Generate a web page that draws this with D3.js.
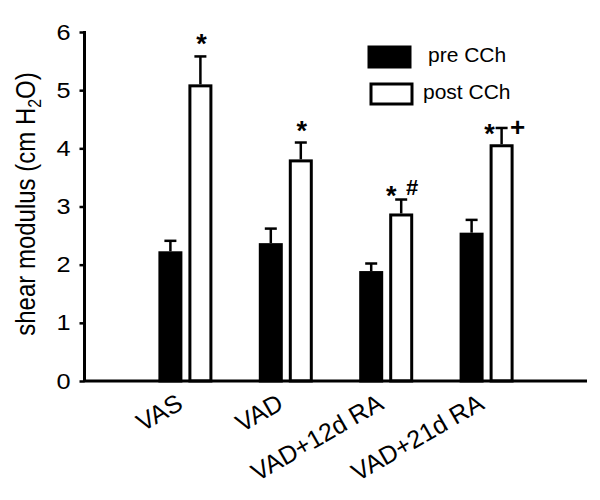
<!DOCTYPE html>
<html>
<head>
<meta charset="utf-8">
<script src="https://cdn.jsdelivr.net/npm/d3@7"></script>
<style>
  html, body { margin: 0; padding: 0; background: #fff; }
  svg { display: block; }
  text { font-family: "Liberation Sans", Arial, sans-serif; fill: #000; }
</style>
</head>
<body>
<div id="chart"></div>
<script>
// ---- data ----
const groups = ["VAS", "VAD", "VAD+12d RA", "VAD+21d RA"];
const seriesNames = ["pre CCh", "post CCh"];
const preValues  = [2.23, 2.37, 1.89, 2.55];
const preErrors  = [0.18, 0.25, 0.13, 0.22];
const postValues = [5.10, 3.81, 2.88, 4.07];
const postErrors = [0.48, 0.29, 0.24, 0.28];
const yTicks = [0, 1, 2, 3, 4, 5, 6];
const annotations = [["*"], ["*"], ["*", "#"], ["*", "+"]];

// ---- layout ----
const W = 600, H = 500;
const svg = d3.select("#chart").append("svg").attr("width", W).attr("height", H);

const x0 = d3.scaleBand().domain(groups).range([85, 587]).paddingOuter(0.5).paddingInner(0);
const y = d3.scaleLinear().domain([0, 6]).range([381, 32]);

const rows = groups.map((g, i) => ({
  group: g,
  bars: [
    { s: seriesNames[0], v: preValues[i], e: preErrors[i] },
    { s: seriesNames[1], v: postValues[i], e: postErrors[i] }
  ],
  ann: annotations[i]
}));

const fillOf = s => s === seriesNames[0] ? "#000" : "#fff";

const g = svg.selectAll("g.grp").data(rows).join("g").attr("class", "grp");

g.each(function(d) {
  const cx = x0(d.group) + x0.bandwidth() / 2;
  const x1 = d3.scaleBand().domain(seriesNames).range([cx - 27, cx + 27]).paddingInner(0.2);
  const sel = d3.select(this);
  // error bars (upwards only)
  sel.selectAll("line.err").data(d.bars).join("line")
    .attr("class", "err")
    .attr("x1", b => x1(b.s) + x1.bandwidth() / 2)
    .attr("x2", b => x1(b.s) + x1.bandwidth() / 2)
    .attr("y1", b => y(b.v))
    .attr("y2", b => y(b.v + b.e))
    .attr("stroke", "#000").attr("stroke-width", 2.5);
  sel.selectAll("line.cap").data(d.bars).join("line")
    .attr("class", "cap")
    .attr("x1", b => x1(b.s) + x1.bandwidth() / 2 - 6)
    .attr("x2", b => x1(b.s) + x1.bandwidth() / 2 + 6)
    .attr("y1", b => y(b.v + b.e))
    .attr("y2", b => y(b.v + b.e))
    .attr("stroke", "#000").attr("stroke-width", 2.5);
  // bars
  sel.selectAll("rect").data(d.bars).join("rect")
    .attr("x", b => x1(b.s) + 1.5)
    .attr("width", x1.bandwidth() - 3)
    .attr("y", b => y(b.v) + 1.5)
    .attr("height", b => y(0) - y(b.v) - 1.5)
    .attr("fill", b => fillOf(b.s))
    .attr("stroke", "#000").attr("stroke-width", 3);

  // annotations
  const post = d.bars[1];
  const px = x1(post.s) + x1.bandwidth() / 2;
  const top = y(post.v + post.e);
  if (d.ann.length === 1) {
    sel.append("text").text(d.ann[0])
      .attr("x", px + 1).attr("y", top - 3)
      .attr("text-anchor", "middle")
      .attr("font-size", 27).attr("font-weight", "bold");
  } else if (d.ann[1] === "#") {
    sel.append("text").text(d.ann[0])
      .attr("x", px - 10).attr("y", top + 5)
      .attr("text-anchor", "middle")
      .attr("font-size", 27).attr("font-weight", "bold");
    sel.append("text").text(d.ann[1])
      .attr("x", px + 11).attr("y", top - 5)
      .attr("text-anchor", "middle")
      .attr("font-size", 22).attr("font-weight", "bold");
  } else {
    sel.append("text").text(d.ann[0])
      .attr("x", px - 12).attr("y", top + 15)
      .attr("text-anchor", "middle")
      .attr("font-size", 27).attr("font-weight", "bold");
    sel.append("text").text(d.ann[1])
      .attr("x", px + 16).attr("y", top + 8)
      .attr("text-anchor", "middle")
      .attr("font-size", 26).attr("font-weight", "bold");
  }
});

// y axis
const yAxis = d3.axisLeft(y).tickValues(yTicks).tickSize(5).tickPadding(9).tickFormat(d3.format("d"));
const ya = svg.append("g").attr("transform", "translate(84.5,0)").call(yAxis);
ya.select(".domain").attr("stroke", "#000").attr("stroke-width", 3).attr("d", `M0,${y(6) - 1}V${y(0)}`);
ya.selectAll(".tick line").attr("stroke", "#000").attr("stroke-width", 2.5);
ya.selectAll(".tick text").attr("font-size", 22).attr("font-family", "Liberation Sans, Arial, sans-serif").attr("fill", "#000")
  .attr("transform", "translate(-15,0) scale(1.15,1) translate(15,0)");

// x axis
const xAxis = d3.axisBottom(x0).tickSize(0).tickPadding(0);
const xa = svg.append("g").attr("transform", `translate(0,${y(0)})`).call(xAxis);
xa.select(".domain").attr("stroke", "#000").attr("stroke-width", 3).attr("d", `M84,0H587`);
xa.selectAll(".tick text")
  .attr("font-size", 25).attr("font-family", "Liberation Sans, Arial, sans-serif").attr("fill", "#000")
  .attr("text-anchor", "end")
  .attr("dy", 0).attr("y", 0)
  .attr("transform", "translate(-1,27) rotate(-30)");

// y label
const yl = svg.append("text")
  .attr("transform", `translate(35,204) rotate(-90) scale(1,1.12)`)
  .attr("text-anchor", "middle")
  .attr("font-size", 24);
yl.append("tspan").text("shear modulus (cm H");
yl.append("tspan").text("2").attr("font-size", 16).attr("dy", 5);
yl.append("tspan").text("O)").attr("dy", -5);

// legend
const legend = svg.append("g");
const ly = [46, 83];
legend.selectAll("rect").data(seriesNames).join("rect")
  .attr("x", (d, i) => i === 0 ? 369 : 371)
  .attr("y", (d, i) => ly[i] + 1)
  .attr("width", 41).attr("height", 20)
  .attr("fill", d => fillOf(d)).attr("stroke", "#000").attr("stroke-width", 3);
legend.selectAll("text").data(seriesNames).join("text")
  .attr("x", (d, i) => i === 0 ? 428 : 423)
  .attr("y", (d, i) => i === 0 ? 62 : 99)
  .attr("font-size", 21)
  .text(d => d);
</script>
</body>
</html>
